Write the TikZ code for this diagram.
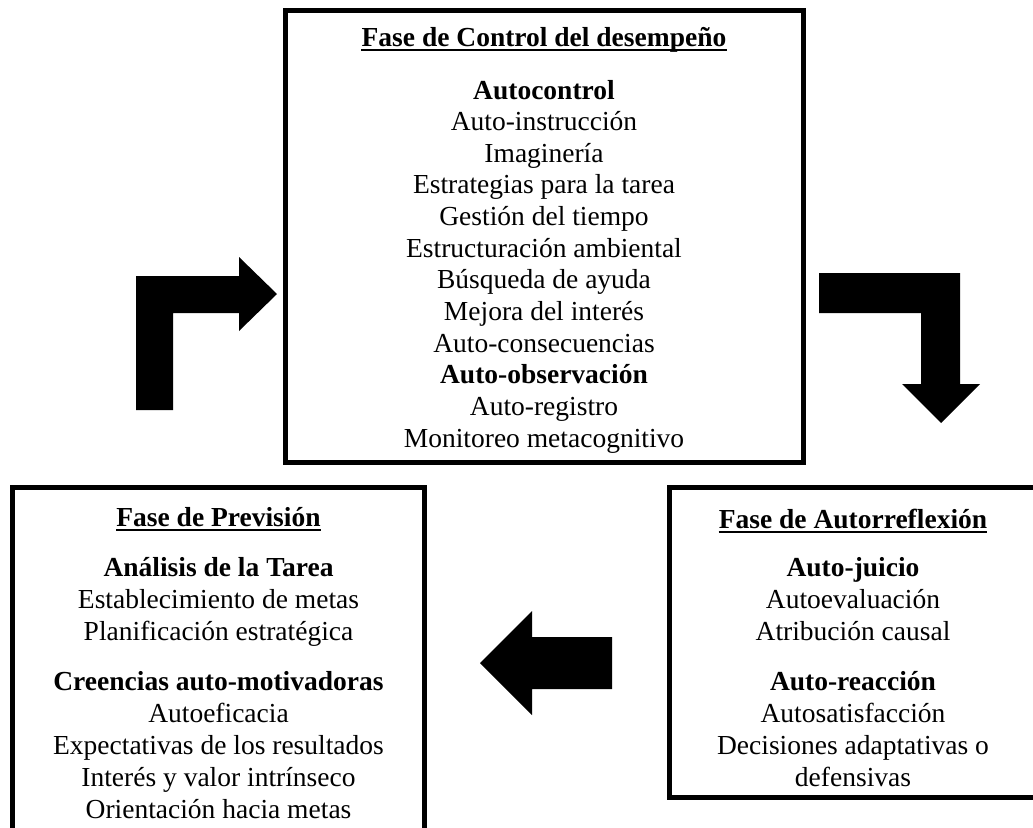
\documentclass[tikz,border=0pt]{standalone}
\usepackage{fontspec}
\setmainfont{Liberation Serif}
\usepackage{tikz}

\begin{document}
\begin{tikzpicture}[x=1pt, y=-1pt,
  every node/.style={inner sep=0pt, anchor=base, font=\fontsize{27.5}{32}\selectfont},
  fase/.style={draw, line width=5pt, anchor=center},
  tit/.style={font=\fontsize{27.5}{32}\selectfont\bfseries},
  sublinha/.style={line width=1.8pt}]
\useasboundingbox (0,0) rectangle (1033,827);
% caixas das tres fases
\node[fase, minimum width=517.5pt, minimum height=451.5pt] (control) at (544.25,236.25) {};
\node[fase, minimum width=412pt, minimum height=347.5pt] (prev) at (218.5,661.25) {};
\node[fase, minimum width=370.5pt, minimum height=310pt] (refl) at (854.75,642.5) {};
% fase de control
\node[tit] (c0) at (544,46) {Fase de Control del desempeño};
\node[tit] (c1) at (544,99) {Autocontrol};
\node (c2) at (544,130.6) {Auto-instrucción};
\node (c3) at (544,162.3) {Imaginería};
\node (c4) at (544,193.9) {Estrategias para la tarea};
\node (c5) at (544,225.6) {Gestión del tiempo};
\node (c6) at (544,257.2) {Estructuración ambiental};
\node (c7) at (544,288.9) {Búsqueda de ayuda};
\node (c8) at (544,320.5) {Mejora del interés};
\node (c9) at (544,352.2) {Auto-consecuencias};
\node[tit] (c10) at (544,383.8) {Auto-observación};
\node (c11) at (544,415.5) {Auto-registro};
\node (c12) at (544,447.1) {Monitoreo metacognitivo};
% fase de prevision
\node[tit] (p0) at (218.5,526) {Fase de Previsión};
\node[tit] (p1) at (218.5,576) {Análisis de la Tarea};
\node (p2) at (218.5,608) {Establecimiento de metas};
\node (p3) at (218.5,640) {Planificación estratégica};
\node[tit] (p4) at (218.5,690) {Creencias auto-motivadoras};
\node (p5) at (218.5,722) {Autoeficacia};
\node (p6) at (218.5,754) {Expectativas de los resultados};
\node (p7) at (218.5,786) {Interés y valor intrínseco};
\node (p8) at (218.5,818) {Orientación hacia metas};
% fase de autorreflexion
\node[tit] (r0) at (853,528) {Fase de Autorreflexión};
\node[tit] (r1) at (853,576) {Auto-juicio};
\node (r2) at (853,608) {Autoevaluación};
\node (r3) at (853,640) {Atribución causal};
\node[tit] (r4) at (853,690) {Auto-reacción};
\node (r5) at (853,722) {Autosatisfacción};
\node (r6) at (853,754) {Decisiones adaptativas o};
\node (r7) at (853,786) {defensivas};
% sublinhados dos titulos
\draw[sublinha] ([yshift=-4pt]c0.base west) -- ([yshift=-4pt]c0.base east);
\draw[sublinha] ([yshift=-4pt]p0.base west) -- ([yshift=-4pt]p0.base east);
\draw[sublinha] ([yshift=-4pt]r0.base west) -- ([yshift=-4pt]r0.base east);
% setas grossas do ciclo
\fill (136,410) -- (136,276) -- (239,276) -- (239,257) -- (277,294) -- (239,331)
  -- (239,313) -- (173,313) -- (173,410) -- cycle;
\fill (819,273) -- (960,273) -- (960,384) -- (980,384) -- (941,423) -- (902,384)
  -- (921,384) -- (921,313) -- (819,313) -- cycle;
\fill (480,663) -- (532,611) -- (532,637) -- (612,637) -- (612,689) -- (532,689)
  -- (532,715) -- cycle;
\end{tikzpicture}
\end{document}
